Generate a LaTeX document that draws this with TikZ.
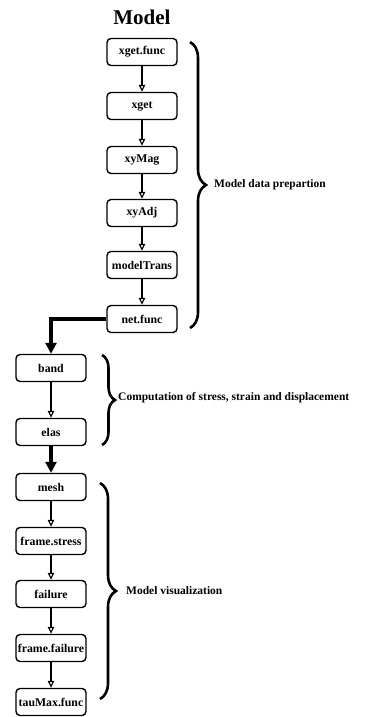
\documentclass[tikz,border=0pt]{standalone}
\usepackage{fontspec}
\setmainfont{Liberation Serif}
\usetikzlibrary{arrows.meta,decorations.pathreplacing}
\tikzset{
  box/.style={draw, line width=1.4pt, rounded corners=4pt, minimum width=70pt, minimum height=27pt, inner sep=0.5pt, font=\fontsize{11.8}{13}\selectfont\bfseries},
  smallarrow/.style={line width=2.8pt, -{Triangle[open, length=7pt, width=6.5pt, line width=1.2pt]}},
  bigarrow/.style={line width=4.5pt, -{Triangle[length=11pt, width=11pt]}},
  bracebig/.style={decorate, line width=2.6pt, decoration={brace, amplitude=16pt}},
  lab/.style={anchor=west, inner sep=0pt, font=\fontsize{11.5}{13}\selectfont\bfseries}
}
\begin{document}
\begin{tikzpicture}[x=1pt,y=-1pt]
\useasboundingbox (0,0) rectangle (365,717);
\node[font=\fontsize{21}{24}\selectfont\bfseries] (title) at (142,17) {Model};
\node[box] (a1) at (142,52) {xget.func};
\node[box] (a2) at (142,106) {xget};
\node[box] (a3) at (142,160) {xyMag};
\node[box] (a4) at (142,213) {xyAdj};
\node[box] (a5) at (142,265) {modelTrans};
\node[box] (a6) at (142,319) {net.func};
\node[box] (b1) at (51,368) {band};
\node[box] (b2) at (51,432) {elas};
\node[box] (c1) at (51,487) {mesh};
\node[box] (c2) at (51,541) {frame.stress};
\node[box] (c3) at (51,594) {failure};
\node[box] (c4) at (51,648) {frame.failure};
\node[box] (c5) at (51,702) {tauMax.func};
\draw[smallarrow] (a1) -- (a2);
\draw[smallarrow] (a2) -- (a3);
\draw[smallarrow] (a3) -- (a4);
\draw[smallarrow] (a4) -- (a5);
\draw[smallarrow] (a5) -- (a6);
\draw[bigarrow] (a6.west) -| (b1.north);
\draw[smallarrow] (b1) -- (b2);
\draw[bigarrow] (b2) -- (c1);
\draw[smallarrow] (c1) -- (c2);
\draw[smallarrow] (c2) -- (c3);
\draw[smallarrow] (c3) -- (c4);
\draw[smallarrow] (c4) -- (c5);
\coordinate (br1a) at (190,42);
\coordinate (br1b) at (190,328);
\draw[bracebig] (br1a) -- (br1b);
\node[lab] (l1) at (214,185) {Model data prepartion};
\coordinate (br2a) at (102,355);
\coordinate (br2b) at (102,445);
\draw[bracebig, decoration={amplitude=13pt}] (br2a) -- (br2b);
\node[lab] (l2) at (118,398) {Computation of stress, strain and displacement};
\coordinate (br3a) at (100,483);
\coordinate (br3b) at (100,699);
\draw[bracebig] (br3a) -- (br3b);
\node[lab] (l3) at (126,591) {Model visualization};
\end{tikzpicture}
\end{document}
